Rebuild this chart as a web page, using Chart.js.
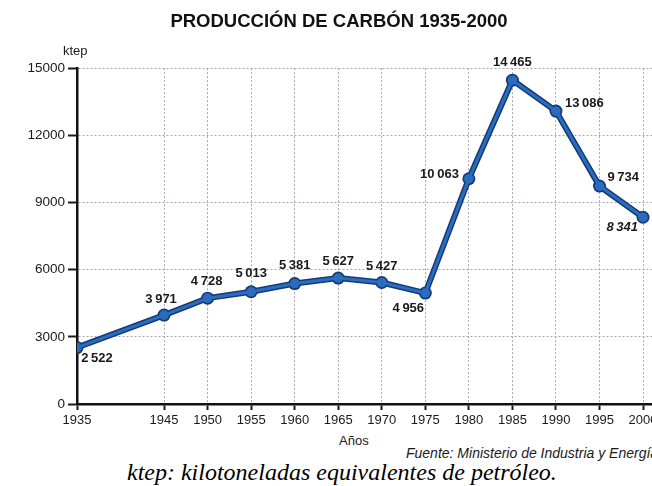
<!DOCTYPE html>
<html>
<head>
<meta charset="utf-8">
<script src="https://cdn.jsdelivr.net/npm/chart.js@4/dist/chart.umd.min.js"></script>
<style>
  html, body { margin: 0; padding: 0; background: #fff; }
  #page { position: relative; width: 652px; height: 486px; overflow: hidden; background: #fff; }
  #wrap { position: absolute; left: 0; top: 0; width: 680px; height: 430px; }
  .txt { position: absolute; white-space: nowrap; line-height: 1; color: #1a1a1a; font-family: "Liberation Sans", Arial, sans-serif; }
  #unit { left: 63px; top: 44px; font-size: 13px; }
  #xname { left: 339px; top: 434px; font-size: 13px; }
  #source { left: 406px; top: 446px; font-size: 14px; font-style: italic; }
  #caption { left: 127px; top: 460px; font-family: "Liberation Serif", "Times New Roman", serif; font-style: italic; font-size: 24px; color: #000; }
</style>
</head>
<body>
<div id="page">
  <div id="wrap"><canvas id="chart"></canvas></div>
  <div class="txt" id="unit">ktep</div>
  <div class="txt" id="xname">Años</div>
  <div class="txt" id="source">Fuente: Ministerio de Industria y Energía</div>
  <div class="txt" id="caption">ktep: kilotoneladas equivalentes de petróleo.</div>
</div>
<script>
/* ---- data ---- */
const TITLE = 'PRODUCCIÓN DE CARBÓN 1935-2000';
const YEARS = [1935, 1945, 1950, 1955, 1960, 1965, 1970, 1975, 1980, 1985, 1990, 1995, 2000];
const PRODUCTION = [2522, 3971, 4728, 5013, 5381, 5627, 5427, 4956, 10063, 14465, 13086, 9734, 8341];
const Y_TICKS = [0, 3000, 6000, 9000, 12000, 15000];

/* where each value label sits next to its point: [align, dx, dy] */
const LABEL_POS = [
  ['center', 20, 11], ['center', -3, -16], ['center', -1, -17], ['center', 0, -18],
  ['center', 0, -18], ['center', 0, -17], ['center', 0, -16], ['center', -17, 15],
  ['right', -10, -4], ['center', 0, -18], ['left', 9, -8], ['left', 8, -9], ['right', -5, 10]
];

const points = YEARS.map((y, i) => ({ x: y, y: PRODUCTION[i] }));
const fmt = v => v >= 1000 ? Math.floor(v / 1000) + '\u2009' + String(v % 1000).padStart(3, '0') : String(v);

const valueLabels = {
  id: 'valueLabels',
  afterDatasetsDraw(chart) {
    const ctx = chart.ctx;
    const meta = chart.getDatasetMeta(1);
    ctx.save();
    ctx.fillStyle = '#1a1a1a';
    ctx.textBaseline = 'middle';
    meta.data.forEach((pt, i) => {
      const [align, dx, dy] = LABEL_POS[i];
      ctx.font = (i === PRODUCTION.length - 1 ? 'italic ' : '') + 'bold 13px "Liberation Sans", Arial, sans-serif';
      ctx.textAlign = align;
      ctx.fillText(fmt(PRODUCTION[i]), pt.x + dx, pt.y + dy);
    });
    ctx.restore();
  }
};

const gridStyle = { color: '#aaa2b6', lineWidth: 1, tickColor: '#1a1a1a', tickWidth: 2 };

new Chart(document.getElementById('chart').getContext('2d'), {
  type: 'line',
  data: {
    datasets: [
      // dark outline under the blue line
      { data: points, order: 2, borderColor: '#143b73', borderWidth: 6, pointRadius: 6.5,
        pointBackgroundColor: '#143b73', pointBorderWidth: 0, tension: 0 },
      { data: points, order: 1, borderColor: '#2b6cc0', borderWidth: 3, pointRadius: 4.8,
        pointBackgroundColor: '#2b6cc0', pointBorderWidth: 0, tension: 0 }
    ]
  },
  options: {
    responsive: true, maintainAspectRatio: false, animation: false,
    layout: { padding: { top: 0, right: 2, bottom: 0, left: 0 } },
    plugins: {
      legend: { display: false },
      tooltip: { enabled: false },
      title: {
        display: true, text: TITLE, color: '#111',
        font: { family: '"Liberation Sans", Arial, sans-serif', size: 18.5, weight: 'bold' },
        padding: { top: 11, bottom: 35 }
      }
    },
    scales: {
      x: {
        type: 'linear', min: 1935, max: 2003.5,
        afterBuildTicks: s => { s.ticks = YEARS.map(v => ({ value: v })); },
        afterFit: s => { s.height = 26; },
        grid: Object.assign({ tickLength: 6 }, gridStyle),
        border: { color: '#111', width: 2.5, dash: [2, 2] },
        ticks: { color: '#1a1a1a', padding: 3, maxRotation: 0, autoSkip: false,
                 font: { family: '"Liberation Sans", Arial, sans-serif', size: 13 },
                 callback: v => String(v) }
      },
      y: {
        min: 0, max: 15000,
        afterBuildTicks: s => { s.ticks = Y_TICKS.map(v => ({ value: v })); },
        afterFit: s => { s.width = 77; },
        grid: Object.assign({ tickLength: 9 }, gridStyle),
        border: { color: '#111', width: 2.5, dash: [2, 2] },
        ticks: { color: '#1a1a1a', padding: 3,
                 font: { family: '"Liberation Sans", Arial, sans-serif', size: 13.5 },
                 callback: v => String(v) }
      }
    }
  },
  plugins: [valueLabels]
});
</script>
</body>
</html>
